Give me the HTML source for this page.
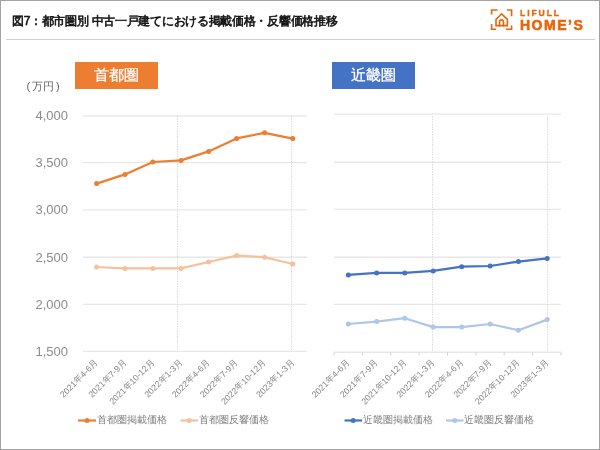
<!DOCTYPE html>
<html><head><meta charset="utf-8"><style>
html,body{margin:0;padding:0;background:#fff;}
svg{display:block;will-change:transform;font-family:"Liberation Sans",sans-serif;}
.yl{font-size:13px;fill:#8c8c8c;}
.xl{font-size:8.7px;fill:#858585;}
.lg{font-size:10px;fill:#808080;}
.bd{font-size:14.6px;fill:#fff;stroke:#fff;stroke-width:0.3px;}
.un{font-size:11px;fill:#666;}
.tt{font-size:12px;fill:#151515;stroke:#151515;stroke-width:0.6px;letter-spacing:-0.3px;}
.l1{font-size:8.6px;fill:#EB6408;stroke:#EB6408;stroke-width:0.3px;font-weight:bold;letter-spacing:1.9px;}
.l2{font-size:14px;fill:#EB6408;stroke:#EB6408;stroke-width:0.6px;font-weight:bold;letter-spacing:1.5px;}
</style></head><body>
<svg width="600" height="450" viewBox="0 0 600 450">
<rect x="0.5" y="0.5" width="599" height="449" fill="#fff" stroke="#a3a3a3" stroke-width="1"/>
<line x1="6" y1="39.5" x2="595" y2="39.5" stroke="#cfcfcf" stroke-width="1"/>
<line x1="83" y1="115.9" x2="307" y2="115.9" stroke="#e7e7e7" stroke-width="1.4"/>
<line x1="83" y1="162.6" x2="307" y2="162.6" stroke="#e7e7e7" stroke-width="1.4"/>
<line x1="83" y1="209.9" x2="307" y2="209.9" stroke="#e7e7e7" stroke-width="1.4"/>
<line x1="83" y1="257.2" x2="307" y2="257.2" stroke="#e7e7e7" stroke-width="1.4"/>
<line x1="83" y1="304.4" x2="307" y2="304.4" stroke="#e7e7e7" stroke-width="1.4"/>
<line x1="83" y1="351.4" x2="307" y2="351.4" stroke="#e7e7e7" stroke-width="1.4"/>
<line x1="334" y1="114.1" x2="561" y2="114.1" stroke="#e7e7e7" stroke-width="1.4"/>
<line x1="334" y1="162.3" x2="561" y2="162.3" stroke="#e7e7e7" stroke-width="1.4"/>
<line x1="334" y1="209.4" x2="561" y2="209.4" stroke="#e7e7e7" stroke-width="1.4"/>
<line x1="334" y1="257.2" x2="561" y2="257.2" stroke="#e7e7e7" stroke-width="1.4"/>
<line x1="334" y1="304.4" x2="561" y2="304.4" stroke="#e7e7e7" stroke-width="1.4"/>
<line x1="334" y1="352.2" x2="561" y2="352.2" stroke="#e7e7e7" stroke-width="1.4"/>
<line x1="334.0" y1="352.5" x2="334.0" y2="355.5" stroke="#d0d0d0" stroke-width="1"/>
<line x1="362.4" y1="352.5" x2="362.4" y2="355.5" stroke="#d0d0d0" stroke-width="1"/>
<line x1="390.8" y1="352.5" x2="390.8" y2="355.5" stroke="#d0d0d0" stroke-width="1"/>
<line x1="419.1" y1="352.5" x2="419.1" y2="355.5" stroke="#d0d0d0" stroke-width="1"/>
<line x1="447.5" y1="352.5" x2="447.5" y2="355.5" stroke="#d0d0d0" stroke-width="1"/>
<line x1="475.9" y1="352.5" x2="475.9" y2="355.5" stroke="#d0d0d0" stroke-width="1"/>
<line x1="504.2" y1="352.5" x2="504.2" y2="355.5" stroke="#d0d0d0" stroke-width="1"/>
<line x1="532.6" y1="352.5" x2="532.6" y2="355.5" stroke="#d0d0d0" stroke-width="1"/>
<line x1="561.0" y1="352.5" x2="561.0" y2="355.5" stroke="#d0d0d0" stroke-width="1"/>
<line x1="177.5" y1="116" x2="177.5" y2="351" stroke="#d6d6d6" stroke-width="1" stroke-dasharray="1.25 1.25"/>
<line x1="291.5" y1="116" x2="291.5" y2="351" stroke="#d6d6d6" stroke-width="1" stroke-dasharray="1.25 1.25"/>
<line x1="432.5" y1="116.5" x2="432.5" y2="352" stroke="#d6d6d6" stroke-width="1" stroke-dasharray="1.25 1.25"/>
<line x1="547.5" y1="116.5" x2="547.5" y2="352" stroke="#d6d6d6" stroke-width="1" stroke-dasharray="1.25 1.25"/>
<polyline points="96.6,267.0 125.0,268.4 152.8,268.4 181.0,268.4 208.6,262.0 236.6,255.6 264.6,257.2 292.8,264.0" fill="none" stroke="#F6C09C" stroke-width="2.2" stroke-linejoin="round" stroke-linecap="round"/><circle cx="96.6" cy="267.0" r="2.5" fill="#F6C09C"/><circle cx="125.0" cy="268.4" r="2.5" fill="#F6C09C"/><circle cx="152.8" cy="268.4" r="2.5" fill="#F6C09C"/><circle cx="181.0" cy="268.4" r="2.5" fill="#F6C09C"/><circle cx="208.6" cy="262.0" r="2.5" fill="#F6C09C"/><circle cx="236.6" cy="255.6" r="2.5" fill="#F6C09C"/><circle cx="264.6" cy="257.2" r="2.5" fill="#F6C09C"/><circle cx="292.8" cy="264.0" r="2.5" fill="#F6C09C"/>
<polyline points="96.6,183.6 125.0,174.4 152.8,162.0 181.0,160.4 208.6,151.4 236.6,138.4 264.6,132.8 292.8,138.6" fill="none" stroke="#ED7D31" stroke-width="2.2" stroke-linejoin="round" stroke-linecap="round"/><circle cx="96.6" cy="183.6" r="2.5" fill="#ED7D31"/><circle cx="125.0" cy="174.4" r="2.5" fill="#ED7D31"/><circle cx="152.8" cy="162.0" r="2.5" fill="#ED7D31"/><circle cx="181.0" cy="160.4" r="2.5" fill="#ED7D31"/><circle cx="208.6" cy="151.4" r="2.5" fill="#ED7D31"/><circle cx="236.6" cy="138.4" r="2.5" fill="#ED7D31"/><circle cx="264.6" cy="132.8" r="2.5" fill="#ED7D31"/><circle cx="292.8" cy="138.6" r="2.5" fill="#ED7D31"/>
<polyline points="348.3,324.0 376.6,321.6 404.8,318.2 433.2,327.1 461.7,327.1 490.1,324.0 518.4,330.2 547.2,319.6" fill="none" stroke="#AFC5EA" stroke-width="2.2" stroke-linejoin="round" stroke-linecap="round"/><circle cx="348.3" cy="324.0" r="2.5" fill="#AFC5EA"/><circle cx="376.6" cy="321.6" r="2.5" fill="#AFC5EA"/><circle cx="404.8" cy="318.2" r="2.5" fill="#AFC5EA"/><circle cx="433.2" cy="327.1" r="2.5" fill="#AFC5EA"/><circle cx="461.7" cy="327.1" r="2.5" fill="#AFC5EA"/><circle cx="490.1" cy="324.0" r="2.5" fill="#AFC5EA"/><circle cx="518.4" cy="330.2" r="2.5" fill="#AFC5EA"/><circle cx="547.2" cy="319.6" r="2.5" fill="#AFC5EA"/>
<polyline points="348.3,274.9 376.6,272.9 404.8,272.9 433.2,270.9 461.7,266.7 490.1,266.0 518.4,261.6 547.2,258.4" fill="none" stroke="#4472C4" stroke-width="2.2" stroke-linejoin="round" stroke-linecap="round"/><circle cx="348.3" cy="274.9" r="2.5" fill="#4472C4"/><circle cx="376.6" cy="272.9" r="2.5" fill="#4472C4"/><circle cx="404.8" cy="272.9" r="2.5" fill="#4472C4"/><circle cx="433.2" cy="270.9" r="2.5" fill="#4472C4"/><circle cx="461.7" cy="266.7" r="2.5" fill="#4472C4"/><circle cx="490.1" cy="266.0" r="2.5" fill="#4472C4"/><circle cx="518.4" cy="261.6" r="2.5" fill="#4472C4"/><circle cx="547.2" cy="258.4" r="2.5" fill="#4472C4"/>
<text x="68" y="120.4" text-anchor="end" class="yl">4,000</text>
<text x="68" y="167.2" text-anchor="end" class="yl">3,500</text>
<text x="68" y="214.4" text-anchor="end" class="yl">3,000</text>
<text x="68" y="261.8" text-anchor="end" class="yl">2,500</text>
<text x="68" y="309.0" text-anchor="end" class="yl">2,000</text>
<text x="68" y="356.0" text-anchor="end" class="yl">1,500</text>
<text transform="translate(98.8,362.8) rotate(-45)" text-anchor="end" class="xl">2021年4-6月</text>
<text transform="translate(127.2,362.8) rotate(-45)" text-anchor="end" class="xl">2021年7-9月</text>
<text transform="translate(155.0,362.8) rotate(-45)" text-anchor="end" class="xl">2021年10-12月</text>
<text transform="translate(183.2,362.8) rotate(-45)" text-anchor="end" class="xl">2022年1-3月</text>
<text transform="translate(210.8,362.8) rotate(-45)" text-anchor="end" class="xl">2022年4-6月</text>
<text transform="translate(238.8,362.8) rotate(-45)" text-anchor="end" class="xl">2022年7-9月</text>
<text transform="translate(266.8,362.8) rotate(-45)" text-anchor="end" class="xl">2022年10-12月</text>
<text transform="translate(295.0,362.8) rotate(-45)" text-anchor="end" class="xl">2023年1-3月</text>
<text transform="translate(350.5,362.8) rotate(-45)" text-anchor="end" class="xl">2021年4-6月</text>
<text transform="translate(378.8,362.8) rotate(-45)" text-anchor="end" class="xl">2021年7-9月</text>
<text transform="translate(407.0,362.8) rotate(-45)" text-anchor="end" class="xl">2021年10-12月</text>
<text transform="translate(435.4,362.8) rotate(-45)" text-anchor="end" class="xl">2022年1-3月</text>
<text transform="translate(463.9,362.8) rotate(-45)" text-anchor="end" class="xl">2022年4-6月</text>
<text transform="translate(492.3,362.8) rotate(-45)" text-anchor="end" class="xl">2022年7-9月</text>
<text transform="translate(520.6,362.8) rotate(-45)" text-anchor="end" class="xl">2022年10-12月</text>
<text transform="translate(549.4,362.8) rotate(-45)" text-anchor="end" class="xl">2023年1-3月</text>
<line x1="78" y1="420.5" x2="96" y2="420.5" stroke="#ED7D31" stroke-width="2.2"/><circle cx="87.0" cy="420.5" r="2.5" fill="#ED7D31"/><text x="96.5" y="422.8" class="lg">首都圏掲載価格</text>
<line x1="180.5" y1="420.5" x2="198" y2="420.5" stroke="#F6C09C" stroke-width="2.2"/><circle cx="189.2" cy="420.5" r="2.5" fill="#F6C09C"/><text x="198.5" y="422.8" class="lg">首都圏反響価格</text>
<line x1="344.5" y1="420.5" x2="362" y2="420.5" stroke="#4472C4" stroke-width="2.2"/><circle cx="353.2" cy="420.5" r="2.5" fill="#4472C4"/><text x="362.5" y="422.8" class="lg">近畿圏掲載価格</text>
<line x1="446" y1="420.5" x2="463.5" y2="420.5" stroke="#AFC5EA" stroke-width="2.2"/><circle cx="454.8" cy="420.5" r="2.5" fill="#AFC5EA"/><text x="464" y="422.8" class="lg">近畿圏反響価格</text>
<rect x="75" y="62" width="83" height="27" fill="#ED7D31"/>
<rect x="332" y="62" width="83" height="27" fill="#4472C4"/>
<text x="116.5" y="79.5" text-anchor="middle" class="bd">首都圏</text>
<text x="373.5" y="79.5" text-anchor="middle" class="bd">近畿圏</text>
<text x="26.5" y="90" class="un">(<tspan dx="2.2">万円</tspan><tspan dx="1.6">)</tspan></text>
<text x="12" y="24.9" class="tt">図7：都市圏別 中古一戸建てにおける掲載価格・反響価格推移</text>
<g fill="none" stroke="#EB6408" stroke-width="1.6" stroke-linecap="square"><path d="M491.6,13.8 V10 H496.8"/><path d="M507.8,10 H511.6 V15.4"/><path d="M491.6,24.9 V29.2 H495.3"/><path d="M506.6,29.2 H511.6 V26.2"/><path d="M496,25.6 V19.4 L501.6,13.8 L507.4,19.4 V25.6 Z" stroke-linejoin="miter"/><path d="M499.6,25.6 V21.8 A1.9,1.9 0 0 1 503.4,21.8 V25.6"/></g>
<text x="520" y="15.5" class="l1">LIFULL</text>
<text x="520" y="29.7" class="l2">HOME’S</text>
</svg></body></html>
